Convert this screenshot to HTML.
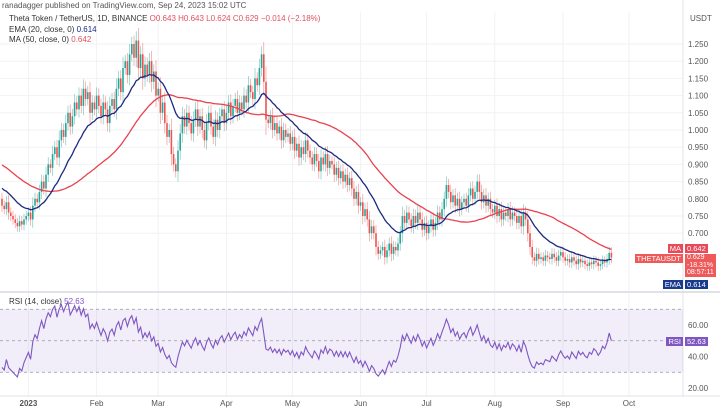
<!DOCTYPE html>
<html><head><meta charset="utf-8"><style>
body{margin:0;background:#fff;font-family:"Liberation Sans",sans-serif;}
#wrap{position:relative;width:720px;height:412px;overflow:hidden;}
.t{position:absolute;font-size:8px;white-space:nowrap;color:#333;}
.box{position:absolute;font-size:7.5px;color:#fff;padding:0 2px;line-height:9px;}
</style></head><body>
<div id="wrap">
<svg id="svg" width="720" height="412" style="position:absolute;left:0;top:0"></svg>
<div class="t" style="left:2px;top:1px;color:#555">ranadagger published on TradingView.com, Sep 24, 2023 15:02 UTC</div>
<div class="t" style="left:9px;top:14px">Theta Token / TetherUS, 1D, BINANCE <span style="color:#e05060">O0.643 H0.643 L0.624 C0.629 −0.014 (−2.18%)</span></div>
<div class="t" style="left:9px;top:25px">EMA (20, close, 0) <span style="color:#1a2a80">0.614</span></div>
<div class="t" style="left:9px;top:35px">MA (50, close, 0) <span style="color:#e05060">0.642</span></div>
<div class="t" style="left:9px;top:297px">RSI (14, close) <span style="color:#7e57c2">52.63</span></div>
<div class="t" style="left:690px;top:14px;color:#555">USDT</div>
<div class="box" style="right:37px;top:244px;background:#e84a5a">MA</div>
<div class="box" style="left:685px;top:244px;background:#e84a5a">0.642</div>
<div class="box" style="right:37px;top:254px;background:#ee5a5a">THETAUSDT</div>
<div class="box" style="left:685px;top:254px;background:#ee5a5a;line-height:7.5px;font-size:7px;height:23px">0.629<br>-18.31%<br>08:57:11</div>
<div class="box" style="right:37px;top:280px;background:#1a3a8e">EMA</div>
<div class="box" style="left:685px;top:280px;background:#1a3a8e">0.614</div>
<div class="box" style="right:37px;top:337px;background:#7e57c2">RSI</div>
<div class="box" style="left:685px;top:337px;background:#7e57c2">52.63</div>
</div>
<script>
const priorCloses=[0.97,0.99,0.98,1.01,1.02,1.00,0.98,0.99,0.97,0.96,0.98,0.95,0.94,0.96,0.93,0.92,0.94,0.95,0.93,0.91,0.92,0.94,0.93,0.91,0.90,0.92,0.91,0.89,0.90,0.88,0.89,0.87,0.88,0.86,0.87,0.85,0.86,0.84,0.85,0.83,0.84,0.82,0.83,0.81,0.82,0.80,0.81,0.81,0.79,0.80];
const closes=[0.78,0.77,0.79,0.76,0.75,0.74,0.73,0.72,0.735,0.725,
0.74,0.75,0.76,0.74,0.78,0.80,0.79,0.82,0.85,0.83,
0.87,0.90,0.89,0.93,0.95,0.92,0.97,1.00,0.98,1.02,
1.05,1.01,1.04,1.08,1.06,1.10,1.07,1.12,1.09,1.11,
1.05,1.08,1.06,1.10,1.07,1.04,1.08,1.06,1.02,1.07,
1.09,1.06,1.12,1.15,1.11,1.18,1.20,1.16,1.22,1.25,
1.21,1.26,1.18,1.22,1.15,1.19,1.16,1.20,1.14,1.17,
1.10,1.12,1.05,1.08,1.02,0.98,1.00,0.93,0.90,0.88,
0.94,0.99,1.04,1.01,1.05,1.02,0.99,1.03,1.06,1.01,
1.04,1.00,0.97,1.02,1.05,1.01,0.98,1.03,1.00,1.04,
1.06,1.02,1.05,1.08,1.04,1.07,1.09,1.05,1.08,1.06,
1.10,1.08,1.13,1.11,1.09,1.15,1.13,1.18,1.22,1.14,
1.03,1.02,1.04,1.00,1.02,0.99,1.01,0.97,1.00,0.98,
0.99,0.96,0.98,0.94,0.96,0.92,0.95,0.93,0.97,0.94,
0.92,0.90,0.93,0.91,0.88,0.92,0.90,0.93,0.89,0.91,
0.90,0.87,0.89,0.86,0.88,0.85,0.87,0.84,0.86,0.83,
0.80,0.82,0.78,0.79,0.75,0.77,0.74,0.70,0.72,0.70,
0.66,0.64,0.65,0.66,0.63,0.65,0.67,0.64,0.66,0.65,
0.67,0.70,0.75,0.73,0.76,0.74,0.72,0.75,0.73,0.76,
0.74,0.71,0.73,0.70,0.72,0.74,0.71,0.73,0.76,0.74,
0.77,0.80,0.84,0.82,0.79,0.81,0.78,0.80,0.77,0.79,
0.80,0.78,0.81,0.83,0.80,0.82,0.85,0.82,0.79,0.81,
0.78,0.80,0.77,0.76,0.78,0.75,0.77,0.74,0.76,0.75,
0.77,0.74,0.76,0.75,0.73,0.75,0.72,0.76,0.74,0.70,
0.66,0.63,0.62,0.64,0.625,0.63,0.62,0.635,0.63,0.625,
0.64,0.63,0.62,0.635,0.645,0.63,0.62,0.625,0.615,0.63,
0.62,0.61,0.625,0.615,0.62,0.61,0.605,0.615,0.61,0.62,
0.615,0.605,0.61,0.62,0.615,0.625,0.643,0.629];
const priceTicks=[1.25,1.2,1.15,1.1,1.05,1.0,0.95,0.9,0.85,0.8,0.75,0.7];
const rsiTicks=[60,40,20];
const monthLabels=["2023","Feb","Mar","Apr","May","Jun","Jul","Aug","Sep","Oct"];
const monthDays=[0,31,59,90,120,151,181,212,243,273];
const firstDay=-12;

const svg=document.getElementById('svg');const NS='http://www.w3.org/2000/svg';
function mk(tag,attrs,name){const e=document.createElementNS(NS,tag);for(const k in attrs)e.setAttribute(k,attrs[k]);


svg.appendChild(e);return e;}
const xOf=i=>2+i*2.2;
const xDay=d=>xOf(d-firstDay);
const yP=p=>44+(1.25-p)*344;
const yR=r=>388-(r-20)*1.575;

priceTicks.forEach(p=>{mk('line',{x1:0,x2:683,y1:yP(p),y2:yP(p),stroke:'#f0f2f5'},'price-gridline');
const t=mk('text',{x:688,y:yP(p)+3,'font-size':8,fill:'#555','font-family':'Liberation Sans'},'price-tick');t.textContent=p.toFixed(3);});
monthDays.forEach((d,k)=>{const x=xDay(d);mk('line',{x1:x,x2:x,y1:12,y2:396,stroke:'#f0f2f5'},'month-gridline');
const t=mk('text',{x:x,y:406,'font-size':8,fill:'#555','text-anchor':'middle','font-family':'Liberation Sans','font-weight':k==0?'bold':'normal'},'month-label');t.textContent=monthLabels[k];});
mk('line',{x1:683,x2:683,y1:0,y2:396,stroke:'#e0e3eb'},'axis-border');
mk('line',{x1:0,x2:720,y1:292,y2:292,stroke:'#d6d9e0','stroke-width':1.5},'pane-separator');
mk('line',{x1:0,x2:720,y1:396,y2:396,stroke:'#e0e3eb'},'time-axis-border');
mk('rect',{x:0,y:yR(70),width:683,height:yR(30)-yR(70),fill:'#7e57c2','fill-opacity':0.1},'rsi-band');
[70,50,30].forEach(v=>mk('line',{x1:0,x2:683,y1:yR(v),y2:yR(v),stroke:'#9598a1','stroke-dasharray':'3,3','stroke-width':0.8},'rsi-level'));
rsiTicks.forEach(v=>{const t=mk('text',{x:688,y:yR(v)+3,'font-size':8,fill:'#555','font-family':'Liberation Sans'},'rsi-tick');t.textContent=v.toFixed(2);});

const all=priorCloses.concat(closes);const P=priorCloses.length;
closes.forEach((c,i)=>{const o=all[P+i-1];const up=c>=o;const col=up?'#26a69a':'#ef5350';
const hi=Math.max(o,c)+0.012+Math.abs(c-o)*0.3, lo=Math.min(o,c)-0.012-Math.abs(c-o)*0.3;const x=xOf(i);
mk('line',{x1:x,x2:x,y1:yP(hi),y2:yP(lo),stroke:col,'stroke-width':0.6,'stroke-opacity':0.7},'candle-wick');
mk('rect',{x:x-0.8,y:yP(Math.max(o,c)),width:1.6,height:Math.max(0.8,Math.abs(yP(o)-yP(c))),fill:col},'candle-body');});

let ema=all.slice(0,20).reduce((a,b)=>a+b)/20;const emaPts=[],maPts=[];
for(let j=20;j<all.length;j++){ema=all[j]*2/21+ema*19/21;if(j>=P)emaPts.push([xOf(j-P),yP(ema)]);}
for(let j=P;j<all.length;j++){let s=0;for(let k=j-49;k<=j;k++)s+=all[k];maPts.push([xOf(j-P),yP(s/50)]);}
mk('polyline',{points:maPts.map(p=>p.join(',')).join(' '),fill:'none',stroke:'#e8424f','stroke-width':1.3},'ma50-line');
mk('polyline',{points:emaPts.map(p=>p.join(',')).join(' '),fill:'none',stroke:'#1b2a80','stroke-width':1.3},'ema20-line');

let ag=0,al=0;const rsiPts=[];
for(let j=1;j<all.length;j++){const ch=all[j]-all[j-1];const g=Math.max(ch,0),l=Math.max(-ch,0);
if(j<=14){ag+=g/14;al+=l/14;}else{ag=(ag*13+g)/14;al=(al*13+l)/14;}
if(j>=P){const r=al==0?100:100-100/(1+ag/al);rsiPts.push([xOf(j-P),yR(r)]);}}
mk('polyline',{points:rsiPts.map(p=>p.join(',')).join(' '),fill:'none',stroke:'#7e57c2','stroke-width':1.1},'rsi-line');
</script>
</body></html>
